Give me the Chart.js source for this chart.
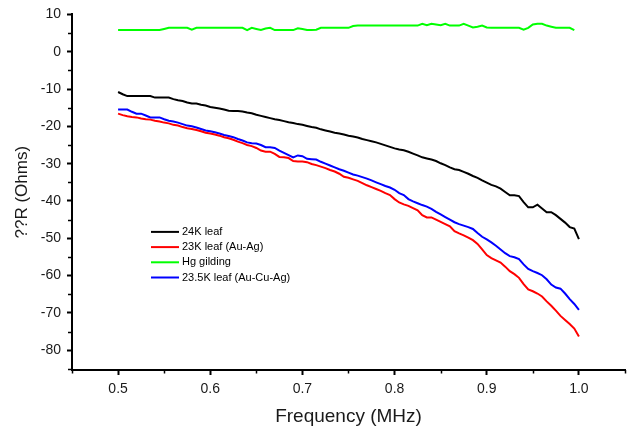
<!DOCTYPE html>
<html><head><meta charset="utf-8">
<script src="https://cdn.jsdelivr.net/npm/chart.js@4.4.0/dist/chart.umd.min.js"></script>
<style>html,body{margin:0;padding:0;background:#fff;}#wrap{width:628px;height:435px;}</style>
</head><body><div id="wrap"><canvas id="c" width="628" height="435"></canvas></div>
<script>
const frequency = [0.500,0.505,0.510,0.515,0.520,0.525,0.530,0.535,0.540,0.545,0.550,0.555,0.560,0.565,0.570,0.575,0.580,0.585,0.590,0.595,
0.600,0.605,0.610,0.615,0.620,0.625,0.630,0.635,0.640,0.645,0.650,0.655,0.660,0.665,0.670,0.675,0.680,0.685,0.690,0.695,
0.700,0.705,0.710,0.715,0.720,0.725,0.730,0.735,0.740,0.745,0.750,0.755,0.760,0.765,0.770,0.775,0.780,0.785,0.790,0.795,
0.800,0.805,0.810,0.815,0.820,0.825,0.830,0.835,0.840,0.845,0.850,0.855,0.860,0.865,0.870,0.875,0.880,0.885,0.890,0.895,
0.900,0.905,0.910,0.915,0.920,0.925,0.930,0.935,0.940,0.945,0.950,0.955,0.960,0.965,0.970,0.975,0.980,0.985,0.990,0.995,1.000];

const leaf24K = [-10.8,-11.4,-11.9,-11.9,-11.9,-11.9,-11.9,-11.9,-12.3,-12.3,-12.3,-12.3,-12.7,-13.0,-13.2,-13.6,-13.9,-13.9,-14.2,-14.4,
-14.8,-15.0,-15.2,-15.5,-15.8,-15.9,-15.9,-16.0,-16.3,-16.5,-16.9,-17.2,-17.5,-17.8,-18.1,-18.3,-18.6,-18.9,-19.1,-19.4,
-19.6,-19.9,-20.2,-20.4,-20.8,-21.1,-21.4,-21.7,-21.9,-22.2,-22.5,-22.7,-23.0,-23.4,-23.7,-24.0,-24.3,-24.7,-25.1,-25.5,
-25.9,-26.2,-26.4,-26.8,-27.3,-27.8,-28.3,-28.6,-28.9,-29.3,-29.9,-30.4,-31.0,-31.5,-31.7,-32.2,-32.7,-33.3,-33.8,-34.5,
-35.1,-35.7,-36.1,-36.7,-37.6,-38.5,-38.5,-38.7,-40.3,-41.7,-41.7,-41.0,-42.0,-43.0,-43.0,-43.8,-44.8,-45.8,-47.0,-47.4,-50.2];

const leaf23K = [-16.6,-17.0,-17.3,-17.5,-17.6,-17.9,-18.1,-18.2,-18.5,-18.7,-19.0,-19.2,-19.6,-19.8,-20.2,-20.5,-20.7,-21.0,-21.3,-21.7,
-21.9,-22.2,-22.5,-22.9,-23.2,-23.6,-24.1,-24.5,-25.0,-25.3,-25.8,-26.5,-26.8,-26.8,-27.4,-28.2,-28.3,-28.5,-29.3,-29.4,
-29.4,-29.6,-30.1,-30.4,-30.8,-31.2,-31.7,-32.1,-32.7,-33.5,-33.8,-34.2,-34.6,-35.2,-35.8,-36.3,-36.8,-37.3,-37.9,-38.4,
-39.5,-40.4,-40.9,-41.3,-41.9,-42.5,-43.8,-44.4,-44.4,-45.0,-45.6,-46.2,-46.8,-48.1,-48.7,-49.2,-49.8,-50.5,-51.5,-53.0,
-54.5,-55.3,-55.9,-56.5,-57.6,-58.8,-59.6,-60.6,-62.3,-63.7,-64.2,-64.8,-65.6,-66.9,-68.1,-69.4,-70.8,-71.9,-73.0,-74.2,-76.3];

const hgGilding = [5.8,5.8,5.8,5.8,5.8,5.8,5.8,5.8,5.8,5.8,6.1,6.4,6.4,6.4,6.4,6.4,5.9,6.4,6.4,6.4,
6.4,6.4,6.4,6.4,6.4,6.4,6.4,6.4,5.8,6.4,6.1,5.8,6.2,6.4,5.8,5.8,5.8,5.8,5.8,6.3,
6.1,5.8,5.8,5.9,6.4,6.4,6.4,6.4,6.4,6.4,6.4,6.9,7.0,7.0,7.0,7.0,7.0,7.0,7.0,7.0,
7.0,7.0,7.0,7.0,7.0,7.0,7.5,7.1,7.5,7.3,7.1,7.5,7.0,7.0,7.0,7.5,7.0,6.5,6.7,7.0,
6.5,6.4,6.4,6.4,6.4,6.4,6.4,6.4,5.9,6.4,7.3,7.5,7.5,7.0,6.7,6.4,6.4,6.4,6.4,5.8,null];

const leaf235K = [-15.5,-15.5,-15.5,-16.1,-16.6,-16.6,-17.1,-17.6,-17.6,-17.6,-18.1,-18.5,-18.7,-19.0,-19.4,-19.8,-20.0,-20.3,-20.7,-21.1,
-21.3,-21.6,-21.9,-22.3,-22.6,-22.9,-23.4,-23.8,-24.3,-24.5,-24.6,-25.0,-25.6,-25.6,-25.8,-26.5,-27.1,-27.7,-28.3,-27.8,
-28.0,-28.7,-28.8,-28.9,-29.5,-30.0,-30.5,-31.0,-31.5,-31.9,-32.4,-32.9,-33.2,-33.6,-34.0,-34.5,-35.0,-35.5,-36.0,-36.4,
-37.0,-37.9,-38.4,-39.5,-40.1,-40.6,-41.1,-41.5,-42.1,-42.9,-43.6,-44.3,-45.0,-45.7,-46.2,-46.6,-47.0,-47.5,-48.6,-49.6,
-50.3,-51.1,-52.0,-53.0,-54.0,-54.8,-55.1,-55.6,-57.0,-58.2,-58.8,-59.3,-59.9,-61.0,-62.4,-63.2,-63.5,-64.8,-66.3,-67.6,-69.2];

const seriesNames = ['24K leaf','23K leaf (Au-Ag)','Hg gilding','23.5K leaf (Au-Cu-Ag)'];
const seriesColors = ['#000000','#ff0000','#00ff00','#0000ff'];
const xTickValues = [0.5,0.6,0.7,0.8,0.9,1.0];
const xTickLabels = ['0.5','0.6','0.7','0.8','0.9','1.0'];
const xMinorValues = [0.45,0.55,0.65,0.75,0.85,0.95,1.05];
const yTickValues = [-80,-70,-60,-50,-40,-30,-20,-10,0,10];
const yTickLabels = ['-80','-70','-60','-50','-40','-30','-20','-10','0','10'];
const yMinorValues = [-85,-75,-65,-55,-45,-35,-25,-15,-5,5];

const FONT = '"Liberation Sans", Arial, sans-serif';
const TXT = '#1a1a1a';

function pts(vals){ return frequency.map((f,i)=>({x:f,y:vals[i]})); }

const minorTicks = {
  id:'minorTicks',
  afterDraw(chart){
    const ctx=chart.ctx, xs=chart.scales.x, ys=chart.scales.y;
    ctx.save(); ctx.strokeStyle='#000'; ctx.lineWidth=1.5;
    xMinorValues.forEach(v=>{const p=Math.round(xs.getPixelForValue(v))+0.5;ctx.beginPath();ctx.moveTo(p,xs.top);ctx.lineTo(p,xs.top+3.5);ctx.stroke();});
    yMinorValues.forEach(v=>{const p=Math.round(ys.getPixelForValue(v))+0.5;ctx.beginPath();ctx.moveTo(ys.right,p);ctx.lineTo(ys.right-4,p);ctx.stroke();});
    ctx.restore();
  }
};
const innerLegend = {
  id:'innerLegend',
  afterDraw(chart){
    const ctx=chart.ctx, a=chart.chartArea;
    const x0=a.left+79, y0=a.top+217.5;
    ctx.save();
    ctx.font='11px '+FONT; ctx.textBaseline='middle'; ctx.fillStyle='#000';
    chart.data.datasets.forEach((d,i)=>{
      const y=y0+i*15.2;
      ctx.strokeStyle=d.borderColor; ctx.lineWidth=2;
      ctx.beginPath(); ctx.moveTo(x0,y); ctx.lineTo(x0+28,y); ctx.stroke();
      ctx.fillText(d.label,x0+31,y);
    });
    ctx.restore();
  }
};

new Chart(document.getElementById('c'),{
  type:'line',
  data:{datasets:[leaf24K,leaf23K,hgGilding,leaf235K].map((v,i)=>({
    label:seriesNames[i], data:pts(v), borderColor:seriesColors[i], backgroundColor:seriesColors[i],
    borderWidth:2, pointRadius:0, tension:0, fill:false, spanGaps:false
  }))},
  options:{
    responsive:false, animation:false, devicePixelRatio:1,
    layout:{padding:{left:0,top:12,right:3,bottom:0}},
    plugins:{legend:{display:false},tooltip:{enabled:false}},
    scales:{
      x:{type:'linear',min:0.45,max:1.05,
        afterBuildTicks:s=>{s.ticks=xTickValues.map(v=>({value:v}));},
        afterFit:s=>{s.height=65;},
        ticks:{callback:(v,i)=>xTickLabels[i],font:{family:FONT,size:14},color:TXT,padding:6,maxRotation:0,autoSkip:false,includeBounds:false},
        grid:{drawOnChartArea:false,drawTicks:true,tickLength:5,tickWidth:2,tickColor:'#000'},
        border:{display:true,color:'#000',width:2},
        title:{display:true,text:'Frequency (MHz)',font:{family:FONT,size:19},color:TXT,padding:{top:0,bottom:7}}
      },
      y:{type:'linear',min:-85.3,max:10,
        afterBuildTicks:s=>{s.ticks=yTickValues.map(v=>({value:v}));},
        afterFit:s=>{s.width=72;},
        ticks:{callback:(v,i)=>yTickLabels[i],font:{family:FONT,size:14},color:TXT,padding:6,autoSkip:false,includeBounds:false},
        grid:{drawOnChartArea:false,drawTicks:true,tickLength:5,tickWidth:2,tickColor:'#000'},
        border:{display:true,color:'#000',width:2},
        title:{display:true,text:'??R (Ohms)',font:{family:FONT,size:17},color:TXT,padding:{top:12,bottom:0}}
      }
    }
  },
  plugins:[minorTicks,innerLegend]
});
</script></body></html>
